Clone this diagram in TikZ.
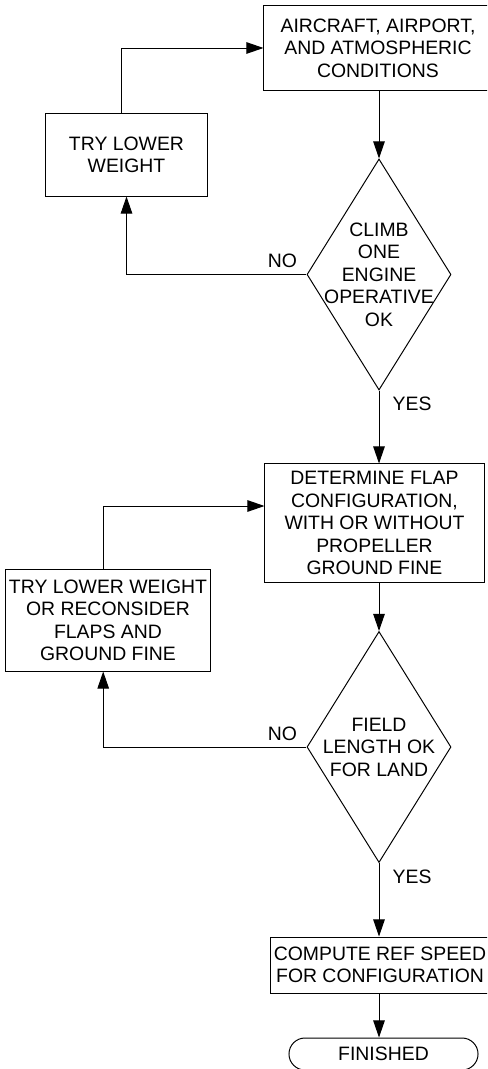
\documentclass[tikz,border=0pt]{standalone}
\usepackage{fontspec}
\setmainfont{Liberation Sans}
\usetikzlibrary{arrows.meta, shapes.geometric, positioning, calc}

\begin{document}
\begin{tikzpicture}[x=0.025cm, y=-0.025cm, line width=0.7pt,
        font=\fontsize{13.8}{16}\selectfont,
        procbox/.style={rectangle, draw, align=center, inner sep=2pt},
        decbox/.style={diamond, draw, inner sep=0pt, minimum width=3.6cm,
                       minimum height=5.775cm},
        endbox/.style={rectangle, draw, rounded corners=0.4cm, minimum width=4.725cm,
                       minimum height=0.8cm},
        flow/.style={-{Triangle[length=4.3mm, width=2.9mm]}}
    ]
        \useasboundingbox (0,0) rectangle (487,1069);
        \clip (0,0) rectangle (487,1069);

        % main column
        \node[procbox, minimum width=5.7cm, minimum height=2.1cm] (cond) at (378,48)
            {AIRCRAFT, AIRPORT,\\AND ATMOSPHERIC\\CONDITIONS};
        \node[decbox, label={[align=center]center:CLIMB\\ONE\\ENGINE\\OPERATIVE\\OK}]
            (climb) at (379,274.5) {};
        \node[procbox, minimum width=5.475cm, minimum height=2.95cm] (flap) at (374.5,523)
            {DETERMINE FLAP\\CONFIGURATION,\\WITH OR WITHOUT\\PROPELLER\\GROUND FINE};
        \node[decbox, label={[align=center]center:FIELD\\LENGTH OK\\FOR LAND}]
            (field) at (379,747) {};
        \node[procbox, minimum width=5.45cm, minimum height=1.4cm] (refspd) at (380,965)
            {COMPUTE REF SPEED\\FOR CONFIGURATION};
        \node[endbox] (fin) at (383.5,1054) {FINISHED};

        % retry boxes
        \node[procbox, minimum width=4.025cm, minimum height=2.05cm] (trylow) at (126.5,155)
            {TRY LOWER\\WEIGHT};
        \node[procbox, minimum width=5.1cm, minimum height=2.525cm] (recon) at (108,620.5)
            {TRY LOWER WEIGHT\\OR RECONSIDER\\FLAPS AND\\GROUND FINE};

        \draw[flow] (cond.south -| climb.north) -- (climb.north);
        \draw[flow] (climb.west) node[above left=1pt and 3pt] {NO}
            -| (trylow.south);
        \draw[flow] ([xshift=-0.13cm]trylow.north) |- (cond.west);
        \draw[flow] (climb.south) node[below right=1pt and 6pt] {YES}
            -- (climb.south |- flap.north);
        \draw[flow] (flap.south -| field.north) -- (field.north);
        \draw[flow] (field.west) node[above left=1pt and 3pt] {NO}
            -| ([xshift=-0.12cm]recon.south);
        \draw[flow] ([xshift=-0.12cm]recon.north) |- (flap.west |- 0,506);
        \draw[flow] (field.south) node[below right=1pt and 6pt] {YES}
            -- (field.south |- refspd.north);
        \draw[flow] (refspd.south -| field.south) -- (fin.north -| field.south);
    \end{tikzpicture}
\end{document}
